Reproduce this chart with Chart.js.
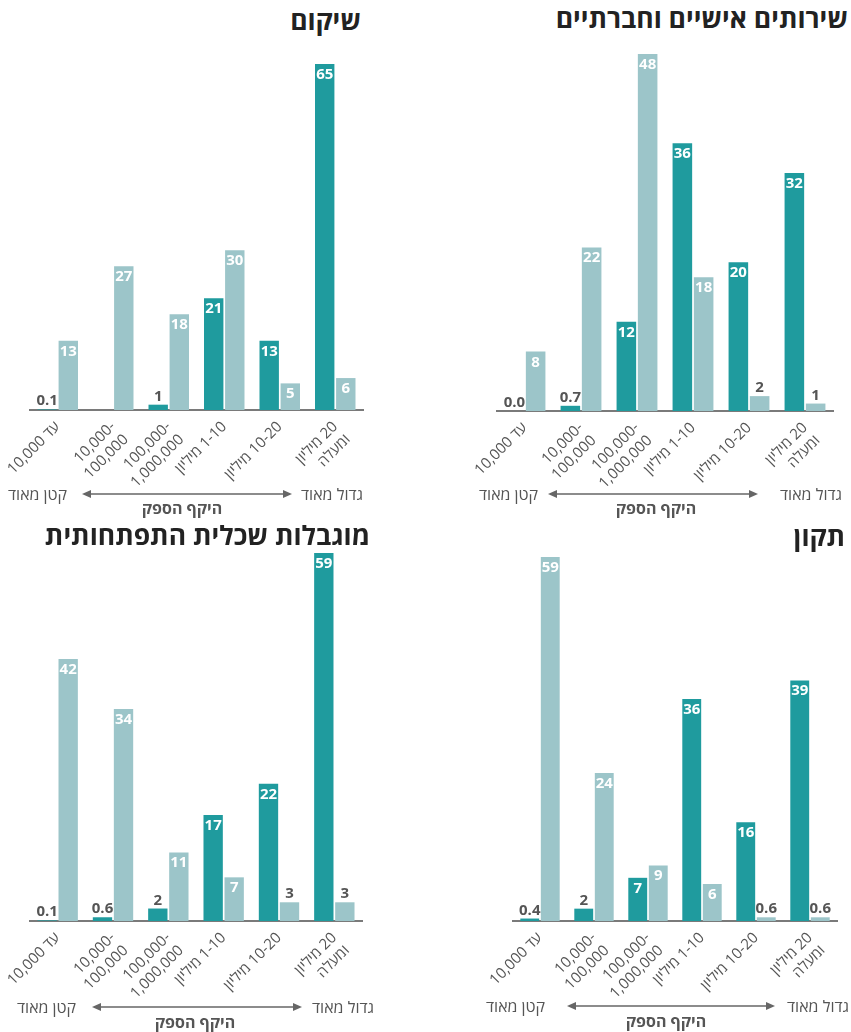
<!DOCTYPE html>
<html lang="he">
<head>
<meta charset="utf-8">
<script src="https://cdn.jsdelivr.net/npm/chart.js@4.4.1/dist/chart.umd.min.js"></script>
<style>
  body { margin: 0; width: 851px; height: 1032px; position: relative; background: #fff; font-family: "Open Sans", sans-serif; overflow: hidden; }
  .title { position: absolute; font-weight: 700; font-size: 26.5px; color: #222; direction: rtl; white-space: nowrap; line-height: 1; }
  canvas { position: absolute; }
  .lbl { position: absolute; font-size: 16px; color: #555; direction: rtl; white-space: nowrap; line-height: 1; }
  .axisname { font-weight: 700; transform: translateX(-50%); }
  svg.arrow { position: absolute; overflow: visible; }
</style>
</head>
<body>
<script>
// קטגוריות - היקף הספק
const categories = ['עד 10,000', ['-10,000', '100,000'], ['-100,000', '1,000,000'], '1-10 מיליון', '10-20 מיליון', ['20 מיליון', 'ומעלה']];

// שיקום
const shikumDark = [0.1, null, 1, 21, 13, 65];
const shikumLight = [13, 27, 18, 30, 5, 6];
// שירותים אישיים וחברתיים
const sherutimDark = [0.0, 0.7, 12, 36, 20, 32];
const sherutimLight = [8, 22, 48, 18, 2, 1];
// מוגבלות שכלית התפתחותית
const mugbalutDark = [0.1, 0.6, 2, 17, 22, 59];
const mugbalutLight = [42, 34, 11, 7, 3, 3];
// תקון
const tikunDark = [0.4, 2, 7, 36, 16, 39];
const tikunLight = [59, 24, 9, 6, 0.6, 0.6];

const DARK = '#1f9b9e';
const LIGHT = '#9cc5c9';

// מיקום כל לוח בעמוד
const panels = [
  { title: 'שיקום', dark: shikumDark, light: shikumLight,
    titleRight: 490, titleTop: 7,
    cv: { left: 0, top: 40, width: 380, height: 450 }, pad: { left: 30, right: 17, top: 24 },
    row: { y: 486, smallL: 8, arrowL: 82, arrowR: 292, bigR: 488, nameX: 182, nameY: 500 } },
  { title: 'שירותים אישיים וחברתיים', dark: sherutimDark, light: sherutimLight,
    titleRight: 3, titleTop: 5,
    cv: { left: 470, top: 40, width: 381, height: 451 }, pad: { left: 27, right: 18, top: 14 },
    row: { y: 486, smallL: 479, arrowL: 548, arrowR: 758, bigR: 9, nameX: 656, nameY: 500 } },
  { title: 'מוגבלות שכלית התפתחותית', dark: mugbalutDark, light: mugbalutLight,
    titleRight: 481, titleTop: 522,
    cv: { left: 0, top: 540, width: 380, height: 461 }, pad: { left: 30, right: 18, top: 13 },
    row: { y: 999, smallL: 17, arrowL: 92, arrowR: 302, bigR: 477, nameX: 195, nameY: 1014 } },
  { title: 'תקון', dark: tikunDark, light: tikunLight,
    titleRight: 6, titleTop: 523,
    cv: { left: 470, top: 540, width: 381, height: 461 }, pad: { left: 43, right: 14, top: 17 },
    row: { y: 998, smallL: 486, arrowL: 567, arrowR: 775, bigR: 2, nameX: 666, nameY: 1013 } }
];

// תוויות ערכים על העמודות
const valueLabels = {
  id: 'valueLabels',
  afterDatasetsDraw(chart) {
    const ctx = chart.ctx;
    ctx.save();
    ctx.font = 'bold 15px "Open Sans"';
    ctx.textAlign = 'center';
    ctx.textBaseline = 'alphabetic';
    chart.data.datasets.forEach((ds, i) => {
      chart.getDatasetMeta(i).data.forEach((bar, j) => {
        const v = ds.data[j];
        if (v === null) return;
        const txt = v < 1 ? v.toFixed(1) : String(v);
        const h = bar.base - bar.y;
        if (h >= 22) {
          ctx.fillStyle = '#fff';
          ctx.fillText(txt, bar.x, bar.y + 15);
        } else {
          ctx.fillStyle = '#555';
          ctx.fillText(txt, bar.x, bar.y - 4);
        }
      });
    });
    ctx.restore();
  }
};

function addEl(tag, cls, style, text) {
  const el = document.createElement(tag);
  if (cls) el.className = cls;
  Object.assign(el.style, style);
  if (text) el.textContent = text;
  document.body.appendChild(el);
  return el;
}

panels.forEach(p => {
  addEl('div', 'title', { right: p.titleRight + 'px', top: p.titleTop + 'px' }, p.title);

  const canvas = document.createElement('canvas');
  canvas.width = p.cv.width;
  canvas.height = p.cv.height;
  canvas.setAttribute('dir', 'rtl');
  Object.assign(canvas.style, { left: p.cv.left + 'px', top: p.cv.top + 'px' });
  document.body.appendChild(canvas);

  new Chart(canvas.getContext('2d'), {
    type: 'bar',
    data: {
      labels: categories,
      datasets: [
        { data: p.dark, backgroundColor: DARK, barPercentage: 0.92, categoryPercentage: 0.76 },
        { data: p.light, backgroundColor: LIGHT, barPercentage: 0.92, categoryPercentage: 0.76 }
      ]
    },
    options: {
      responsive: false,
      animation: false,
      layout: { padding: { left: p.pad.left, right: p.pad.right, top: p.pad.top, bottom: 0 } },
      plugins: { legend: { display: false }, tooltip: { enabled: false } },
      scales: {
        x: {
          grid: { display: false, drawTicks: false },
          border: { display: true, color: '#7a7a7a', width: 2 },
          ticks: {
            color: '#555', font: { family: 'Open Sans', size: 15 },
            minRotation: 45, maxRotation: 45, padding: 8, autoSkip: false
          },
          afterFit(s) { s.paddingLeft = 0; s.paddingRight = 0; s.height = 80; }
        },
        y: { display: false, min: 0, max: Math.max(...p.dark, ...p.light) }
      }
    },
    plugins: [valueLabels]
  });

  const r = p.row;
  addEl('div', 'lbl', { left: r.smallL + 'px', top: r.y + 'px' }, 'קטן מאוד');
  addEl('div', 'lbl', { right: r.bigR + 'px', top: r.y + 'px' }, 'גדול מאוד');
  addEl('div', 'lbl axisname', { left: r.nameX + 'px', top: r.nameY + 'px' }, 'היקף הספק');

  const w = r.arrowR - r.arrowL;
  const svg = document.createElementNS('http://www.w3.org/2000/svg', 'svg');
  svg.setAttribute('class', 'arrow');
  svg.setAttribute('width', w);
  svg.setAttribute('height', 10);
  svg.style.left = r.arrowL + 'px';
  svg.style.top = (r.y + 3) + 'px';
  svg.innerHTML =
    '<line x1="4" y1="5" x2="' + (w - 4) + '" y2="5" stroke="#666" stroke-width="1.6"/>' +
    '<polygon points="0,5 9,1 9,9" fill="#666"/>' +
    '<polygon points="' + w + ',5 ' + (w - 9) + ',1 ' + (w - 9) + ',9" fill="#666"/>';
  document.body.appendChild(svg);
});
</script>
</body>
</html>
